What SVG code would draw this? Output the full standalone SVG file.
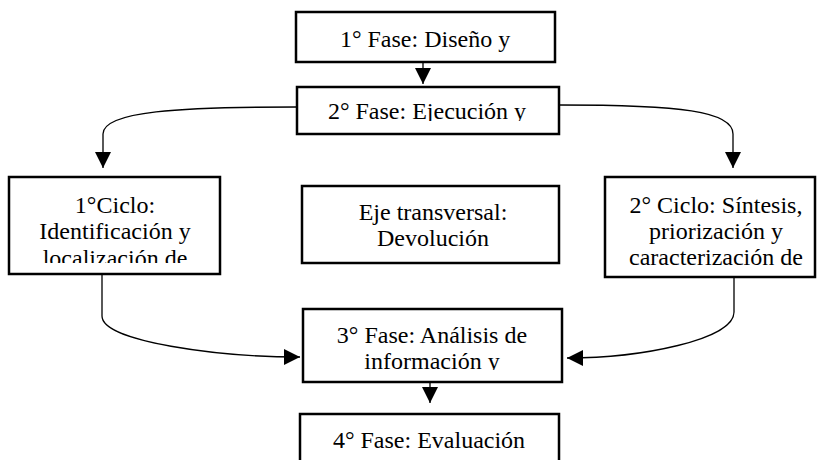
<svg xmlns="http://www.w3.org/2000/svg" width="817" height="460" viewBox="0 0 817 460">
<style>
.box{fill:#fff;stroke:#000;stroke-width:2.5}
.t{font-family:"Liberation Serif","Times New Roman",serif;font-size:24px;fill:#000;text-anchor:middle}
.c{fill:none;stroke:#000;stroke-width:1.3}
</style>
<defs>
<marker id="ah" viewBox="0 0 16 16" refX="16" refY="8" markerWidth="16" markerHeight="16" orient="auto" markerUnits="userSpaceOnUse">
<path d="M0,0 L16,8 L0,16 z" fill="#000"/>
</marker>
<clipPath id="cp2"><rect x="298" y="88" width="260" height="33"/></clipPath>
<clipPath id="cpc1"><rect x="10" y="178" width="209" height="85"/></clipPath>
<clipPath id="cp3"><rect x="304" y="310" width="257" height="60"/></clipPath>
</defs>
<rect width="817" height="460" fill="#fff"/>
<g id="connectors">
<line class="c" x1="423" y1="62" x2="423" y2="84" marker-end="url(#ah)"/>
<path class="c" d="M297,107 C180,107 103,111 103,134 L103,168" marker-end="url(#ah)"/>
<path class="c" d="M559,105 C680,105 733,111 733,134 L733,168" marker-end="url(#ah)"/>
<path class="c" d="M102,274 L102,316 C102,342 220,357 300,357" marker-end="url(#ah)"/>
<path class="c" d="M734,277 L734,312 C734,340 640,358 567,358" marker-end="url(#ah)"/>
<line class="c" x1="430" y1="383" x2="430" y2="403" marker-end="url(#ah)"/>
</g>
<g id="fase1">
<rect class="box" x="296" y="12" width="259" height="50"/>
<text class="t" x="425" y="47">1° Fase: Diseño y</text>
</g>
<g id="fase2">
<rect class="box" x="297" y="87" width="262" height="47"/>
<text class="t" x="427" y="119" clip-path="url(#cp2)">2° Fase: Ejecución y</text>
</g>
<g id="ciclo1">
<rect class="box" x="9" y="177" width="211" height="97"/>
<g clip-path="url(#cpc1)">
<text class="t" x="115" y="213">1°Ciclo:</text>
<text class="t" x="115" y="239">Identificación y</text>
<text class="t" x="115" y="266">localización de</text>
</g>
</g>
<g id="eje">
<rect class="box" x="302" y="186" width="257" height="77"/>
<text class="t" x="433" y="220">Eje transversal:</text>
<text class="t" x="433" y="246">Devolución</text>
</g>
<g id="ciclo2">
<rect class="box" x="605" y="177" width="210" height="100"/>
<text class="t" x="716" y="213">2° Ciclo: Síntesis,</text>
<text class="t" x="716" y="239">priorización y</text>
<text class="t" x="716" y="265">caracterización de</text>
</g>
<g id="fase3">
<rect class="box" x="303" y="309" width="259" height="73"/>
<g clip-path="url(#cp3)">
<text class="t" x="432" y="343">3° Fase: Análisis de</text>
<text class="t" x="432" y="369">información y</text>
</g>
</g>
<g id="fase4">
<rect class="box" x="300" y="414" width="259" height="60"/>
<text class="t" x="429" y="448">4° Fase: Evaluación</text>
</g>
</svg>
